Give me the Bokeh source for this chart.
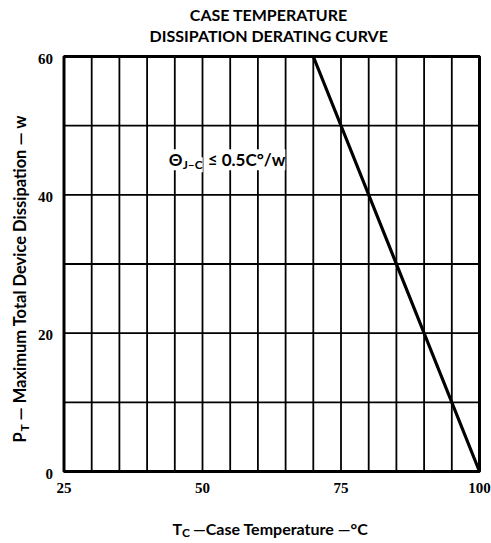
import math
from bokeh.plotting import figure
from bokeh.models import Label, LabelSet, ColumnDataSource, Range1d
from bokeh.embed import file_html
from bokeh.resources import INLINE

# ---- data ----
case_temp = [25, 70, 100]          # T_C, degrees C
max_power = [60, 60, 0]            # P_T, watts
x_ticks = [25, 50, 75, 100]
y_ticks = [0, 20, 40, 60]
x_grid = list(range(25, 101, 5))
y_grid = list(range(0, 61, 10))

FONT = "Lato"

# ---- layout (pixels on the canvas) ----
W, H = 491, 543
BOX_L, BOX_R, BOX_T, BOX_B = 63.5, 479, 56, 471
x0, x1 = min(x_grid), max(x_grid)
y0, y1 = min(y_grid), max(y_grid)
xs = (BOX_R - BOX_L) / (x1 - x0)
ys = (BOX_B - BOX_T) / (y1 - y0)
FIX = 6  # baseline correction in px

p = figure(width=W, height=H, output_backend="svg", toolbar_location=None,
           x_range=Range1d(x0 - BOX_L / xs, x1 + (W - BOX_R) / xs),
           y_range=Range1d(y0 - (H - BOX_B) / ys, y1 + BOX_T / ys),
           min_border=0)
p.axis.visible = False
p.grid.visible = False
p.outline_line_color = None
p.background_fill_color = "white"
p.border_fill_color = "white"

# grid lines
p.segment(x0=x_grid, y0=[y0] * len(x_grid), x1=x_grid, y1=[y1] * len(x_grid),
          line_color="black", line_width=1.8)
p.segment(x0=[x0] * len(y_grid), y0=y_grid, x1=[x1] * len(y_grid), y1=y_grid,
          line_color="black", line_width=1.8)
# frame
p.quad(left=x0, right=x1, bottom=y0, top=y1, fill_color=None,
       line_color="black", line_width=3)

# curve
p.line(case_temp, max_power, line_color="black", line_width=3.2)

# tick labels
xsrc = ColumnDataSource(dict(x=x_ticks, y=[y0] * len(x_ticks),
                             text=[str(v) for v in x_ticks]))
p.add_layout(LabelSet(x="x", y="y", text="text", source=xsrc,
                      y_offset=-11, text_align="center", text_baseline="top",
                      text_font=FONT, text_font_style="bold",
                      text_font_size="15px", text_color="black"))
ysrc = ColumnDataSource(dict(x=[x0] * len(y_ticks), y=y_ticks,
                             text=[str(v) for v in y_ticks]))
p.add_layout(LabelSet(x="x", y="y", text="text", source=ysrc,
                      x_offset=-11, y_offset=-2, text_align="right",
                      text_baseline="middle",
                      text_font=FONT, text_font_style="bold",
                      text_font_size="15px", text_color="black"))


def lab(text, x, y, dx, dy, size, rotated=False, align="left", bg=None):
    kw = {}
    if bg:
        kw["background_fill_color"] = bg
    if rotated:
        dx -= FIX
    else:
        dy += FIX
    p.add_layout(Label(x=x, y=y, x_offset=dx, y_offset=dy, text=text,
                       text_font=FONT, text_font_style="bold",
                       text_font_size=size, text_color="black",
                       text_align=align, text_baseline="alphabetic",
                       angle=math.pi / 2 if rotated else 0.0, **kw))


xm = (x0 + x1) / 2
# title
lab("CASE TEMPERATURE", xm, y1, -3, 36, "16px", align="center")
lab("DISSIPATION DERATING CURVE", xm, y1, -3, 15, "16px", align="center")

# x-axis label
lab("T", x0, y0, 108.5, -63, "16px")
lab("C", x0, y0, 118, -67, "12px")
lab("\u2014Case Temperature \u2014\u00b0C", x0, y0, 129, -63, "16px")

# y-axis label (rotated)
lab("P", x0, y0, -38.5, 29, "16.5px", rotated=True)
lab("T", x0, y0, -33.5, 40, "12px", rotated=True)
lab("\u2014 Maximum Total Device Dissipation \u2014 w", x0, y0, -38.5, 51,
    "16.5px", rotated=True)

# thermal resistance annotation
lab("\u0398", 43.9, 44.2, 0, 0, "17px", bg="white")
lab("J\u2013C", 43.9, 44.2, 14, -5, "12px", bg="white")
lab("\u2264 0.5C\u00b0/w", 43.9, 44.2, 39, 0, "17px", bg="white")

open("out.html", "w").write(file_html(p, INLINE))
